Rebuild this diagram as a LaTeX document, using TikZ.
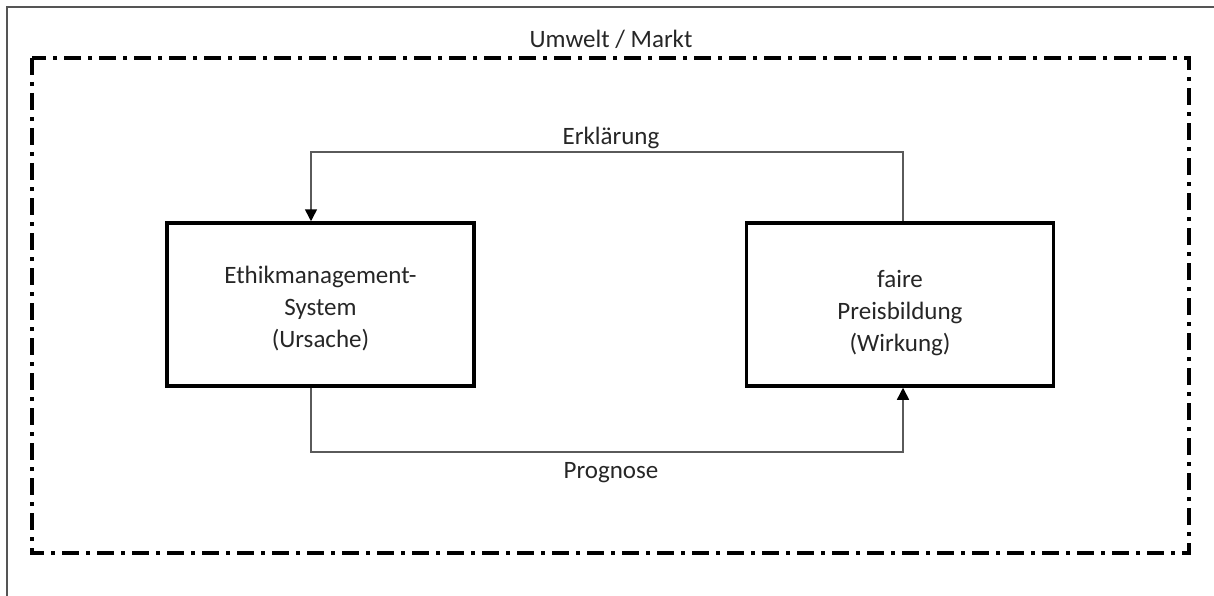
\documentclass[tikz,border=0pt]{standalone}
\usepackage{fontspec}
\setmainfont{Carlito}
\usetikzlibrary{arrows.meta}
\definecolor{txt}{HTML}{262626}
\definecolor{conncol}{HTML}{5A5A5A}
\definecolor{framecol}{HTML}{555555}
\tikzset{
  box/.style={draw=black, line width=3.5pt, minimum width=307pt, minimum height=163pt,
    align=center, inner sep=0pt, text=txt, font=\fontsize{25}{32}\selectfont},
  conn/.style={draw=conncol, line width=1.5pt},
  tip/.style={-{Triangle[length=12pt,width=12pt,color=black]}},
  lbl/.style={text=txt, font=\fontsize{25}{32}\selectfont, inner sep=0pt, anchor=base},
  envline/.style={line width=4pt, dash pattern=on 17pt off 7pt on 4pt off 7pt}
}
\begin{document}
\begin{tikzpicture}[x=1pt,y=-1pt]
\useasboundingbox (0,0) rectangle (1214,596);
% page frame
\draw[framecol, line width=2pt] (7,600) -- (7,7) -- (1220,7);
% environment boundary
\draw[envline] (32,58) rectangle (1189,553);
\node[lbl] (env) at (611,48) {Umwelt / Markt};
% the two blocks (struts on the first line push the text a little lower)
\node[box] (ems) at (320.5,304.5) {\rule{0pt}{26pt}Ethikmanagement-\\System\\(Ursache)};
\node[box] (wirk) at (900,304.5) {\rule{0pt}{34pt}faire\\Preisbildung\\(Wirkung)};
% bend points
\coordinate (e1) at (903,152);
\coordinate (e2) at (311,152);
\coordinate (p1) at (311,452);
\coordinate (p2) at (903,452);
% explanation loop
\draw[conn, tip] (wirk.north -| e1) -- (e1) -- (e2) -- (ems.north -| e2);
\node[lbl] (erk) at (611,145) {Erklärung};
% forecast loop
\draw[conn, tip] (ems.south -| p1) -- (p1) -- (p2) -- (wirk.south -| p2);
\node[lbl] (prog) at (611,478) {Prognose};
\end{tikzpicture}
\end{document}
